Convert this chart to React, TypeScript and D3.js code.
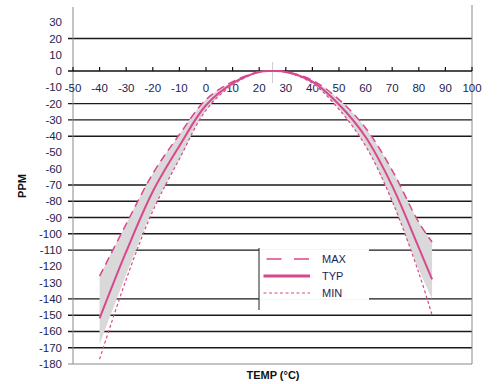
import React from "react";
import * as d3 from "d3";

const temps = [-40, -30, -20, -10, 0, 10, 20, 25, 30, 40, 50, 60, 70, 80, 85];
const typVals = [-152, -111, -74, -46, -21, -7.5, -0.5, 0, -0.5, -6.5, -20.5, -40.5, -70.5, -108.5, -128];
const maxVals = [-126, -94, -63, -39, -17.5, -6.5, -0.4, 0, -0.4, -5.6, -17.5, -35, -61, -93, -105];
const minVals = [-177, -128, -86, -54, -24, -8.5, -0.6, 0, -0.6, -7.5, -23.5, -46, -80, -124, -150];
const bandLoVals = [-168, -125, -85, -54, -24, -8.5, -0.6, 0, -0.6, -7.5, -23.5, -46, -80, -122, -140];

const xTicks = [-50, -40, -30, -20, -10, 0, 10, 20, 30, 40, 50, 60, 70, 80, 90, 100];
const yTicks = [30, 20, 10, 0, -10, -20, -30, -40, -50, -60, -70, -80, -90, -100, -110, -120, -130, -140, -150, -160, -170, -180];
const gridVals = [20, -20, -30, -40, -70, -80, -90, -100, -110, -140, -150, -160, -170];
const legendItems = ["MAX", "TYP", "MIN"];

const PINK = "#d9478e";
const TXT = "#1e1e52";

export default function App() {
  const x = d3.scaleLinear().domain([-50, 100]).range([73, 472]);
  const y = d3.scaleLinear().domain([-180, 40]).range([364, 6]);

  const line = (vals: number[]) =>
    d3
      .line<number>()
      .x((_, i) => x(temps[i]))
      .y((v) => y(v))
      .curve(d3.curveCatmullRom)(vals) as string;

  const band = d3
    .area<number>()
    .x((_, i) => x(temps[i]))
    .y0((_, i) => y(bandLoVals[i]))
    .y1((v) => y(v))
    .curve(d3.curveCatmullRom)(maxVals) as string;

  const legX = 259;
  const legRight = 369;

  return (
    <svg
      width={500}
      height={384}
      style={{ position: "fixed", left: 0, top: 0, background: "#fff" }}
      fontFamily="'Liberation Sans', Arial, sans-serif"
    >
      <rect x={0} y={0} width={500} height={384} fill="#fff" />
      {gridVals.map((v) => (
        <line key={v} x1={68} x2={472} y1={y(v)} y2={y(v)} stroke="#1a1a1a" strokeWidth={1.4} />
      ))}
      <line x1={73} x2={73} y1={7} y2={364} stroke="#8a8a8a" strokeWidth={1} />
      <line x1={472} x2={472} y1={5} y2={364} stroke="#8a8a8a" strokeWidth={1} />
      <line x1={68} x2={472} y1={364} y2={364} stroke="#8a8a8a" strokeWidth={1} />
      <line x1={68} x2={472} y1={y(0)} y2={y(0)} stroke="#111" strokeWidth={1.5} />
      {xTicks.map((t) => (
        <line key={t} x1={x(t)} x2={x(t)} y1={y(0) - 4} y2={y(0)} stroke="#111" strokeWidth={1.2} />
      ))}
      <line x1={x(25)} x2={x(25)} y1={62} y2={83} stroke="#cfcfcf" strokeWidth={1} />
      {yTicks.map((v) => (
        <text key={v} x={62} y={y(v) + 4} textAnchor="end" fontSize={11.5} fill={TXT}>
          {v}
        </text>
      ))}
      {xTicks.map((t) => (
        <text key={t} x={x(t)} y={y(0) + 21} textAnchor="middle" fontSize={11.5} fill={TXT}>
          {t}
        </text>
      ))}
      <path d={band} fill="#d9d9d9" stroke="none" />
      <path d={line(maxVals)} fill="none" stroke={PINK} strokeWidth={1.5} strokeDasharray="8 5" />
      <path d={line(minVals)} fill="none" stroke={PINK} strokeWidth={1.2} strokeDasharray="3 2.5" />
      <path d={line(typVals)} fill="none" stroke={PINK} strokeWidth={2} />
      <rect x={legX} y={y(-110) - 1} width={legRight - legX} height={y(-140) - y(-110) + 2} fill="#fff" />
      <line x1={legX} x2={legX} y1={248} y2={310} stroke="#222" strokeWidth={1} />
      {legendItems.map((name, i) => {
        const ly = 259 + i * 17;
        const dash = i === 0 ? "15 12.5" : i === 2 ? "3 2.5" : undefined;
        const sw = i === 0 ? 1.5 : i === 1 ? 3 : 1.2;
        const x1 = i === 0 ? 266.5 : 263.5;
        return (
          <g key={name}>
            <line x1={x1} x2={310} y1={ly} y2={ly} stroke={PINK} strokeWidth={sw} strokeDasharray={dash} />
            <text x={322} y={ly + 4} fontSize={11} fill={TXT}>
              {name}
            </text>
          </g>
        );
      })}
      <text
        x={26}
        y={186}
        transform="rotate(-90 26 186)"
        textAnchor="middle"
        fontSize={11}
        fontWeight="bold"
        fill="#111"
      >
        PPM
      </text>
      <text x={273} y={379} textAnchor="middle" fontSize={11} fontWeight="bold" fill="#111">
        TEMP (°C)
      </text>
    </svg>
  );
}
